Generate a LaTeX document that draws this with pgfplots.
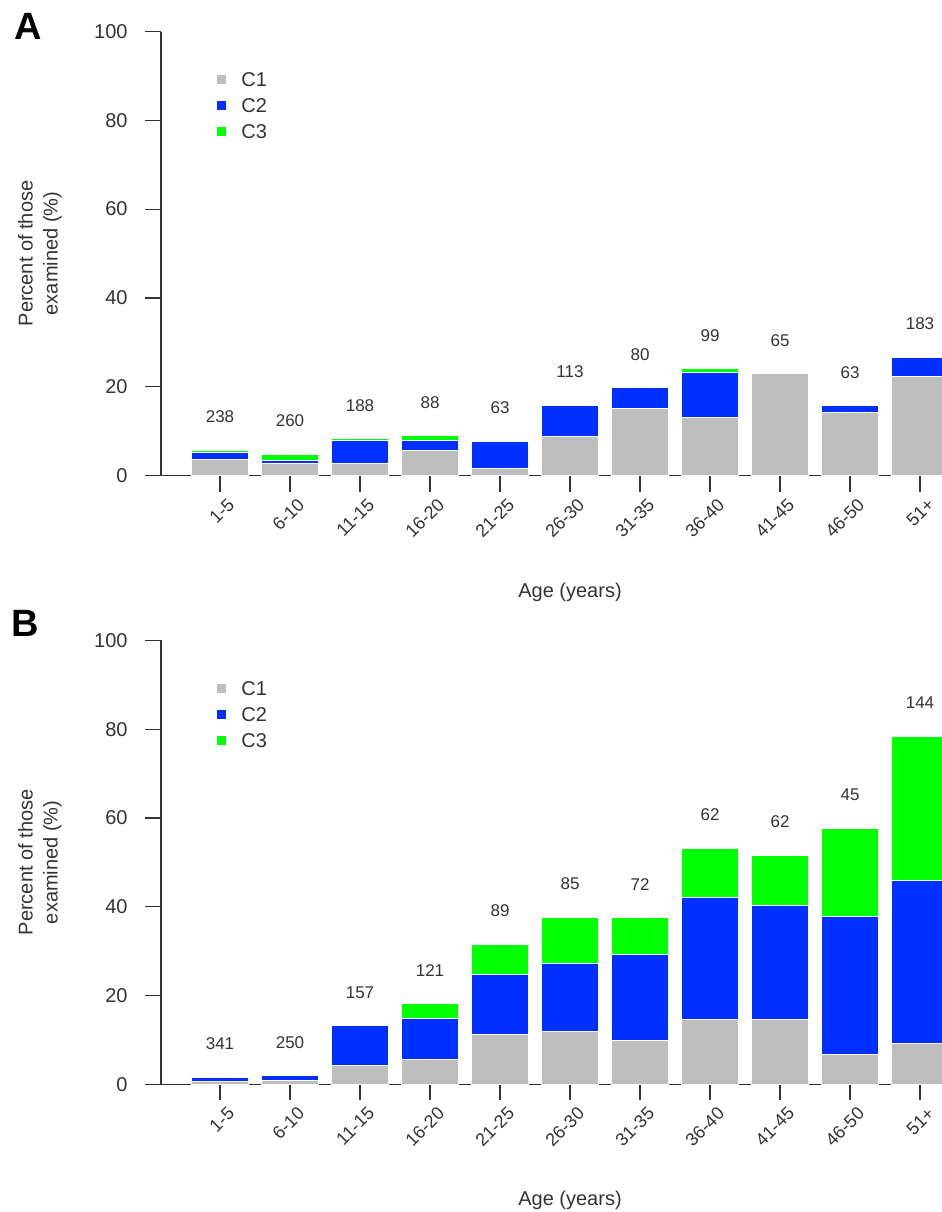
\documentclass[border=0pt]{standalone}
\usepackage{fontspec}
\setmainfont{Liberation Sans}
\usepackage{pgfplots}
\usepackage{pgfplotstable}
\pgfplotsset{compat=1.18}

\definecolor{cgray}{RGB}{190,190,190}
\definecolor{cblue}{RGB}{0,48,255}
\definecolor{cgreen}{RGB}{0,255,0}
\definecolor{axc}{RGB}{51,51,51}

% percent of those examined, by age group; n = number examined
\pgfplotstableread{
x  C1   C2   C3   n
0  3.7  1.5  0.5  238
1  2.6  0.7  1.5  260
2  2.6  5.2  0.5  188
3  5.6  2.2  1.2  88
4  1.5  6.2  0    63
5  8.8  7.0  0    113
6  15.0 4.8  0    80
7  13.1 10.0 0.9  99
8  22.9 0    0    65
9  14.2 1.5  0    63
10 22.4 4.2  0    183
}\dataA

\pgfplotstableread{
x  C1   C2   C3   n
0  0.6  1.0  0    341
1  0.8  1.1  0    250
2  4.3  8.9  0    157
3  5.7  9.2  3.2  121
4  11.3 13.5 6.8  89
5  11.8 15.3 10.5 85
6  9.8  19.4 8.3  72
7  14.6 27.4 11.2 62
8  14.6 25.7 11.3 62
9  6.7  31.1 19.9 45
10 9.1  36.8 32.5 144
}\dataB

\pgfplotsset{
  frame/.style={
    scale only axis, width=390.5pt, height=222pt,
    xmin=-0.843, xmax=10.314, ymin=0, ymax=100,
  },
  agepanel/.style={
    frame,
    ybar stacked, bar width=28.5pt,
    axis x line*=bottom, axis y line*=left,
    axis line style={axc, line width=0.6pt},
    tick style={axc, line width=0.6pt},
    tick align=outside, major tick length=8pt,
    xtick={0,...,10},
    xticklabels={1-5,6-10,11-15,16-20,21-25,26-30,31-35,36-40,41-45,46-50,51+},
    ytick={0,20,...,100},
    /pgf/number format/assume math mode=true,
    yticklabel style={font=\fontsize{10}{12}\selectfont, text=axc, inner sep=0pt, xshift=-8.5pt},
    % shifts act in the rotated frame
    xticklabel style={font=\fontsize{9}{10}\selectfont, text=axc, rotate=45, anchor=east, inner sep=0pt, xshift=0.5pt, yshift=-7.5pt},
    xlabel={Age (years)},
    xlabel style={at={(axis description cs:0.5237,-0.262)}, anchor=center, font=\fontsize{10}{12}\selectfont, text=axc},
    ylabel={Percent of those\\examined (\%)},
    ylabel style={at={(axis description cs:-0.155,0.5)}, anchor=center, align=center, font=\fontsize{10}{12.5}\selectfont, text=axc},
    legend style={at={(axis description cs:0.0704,0.909)}, anchor=north west, draw=none, fill=none,
      inner sep=0pt, font=\fontsize{10}{12}\selectfont, text=axc, row sep=6pt, column sep=7pt,
      nodes={inner sep=0pt, text height=7pt, text depth=0pt}},
    legend cell align=left,
    legend image code/.code={\fill[#1] (0pt,-2.5pt) rectangle (5pt,2.5pt);},
  },
  countlabels/.style={draw=none, nodes near coords, point meta=explicit symbolic,
    nodes near coords style={anchor=center, yshift=16.65pt, font=\fontsize{8.5}{10}\selectfont, text=axc}},
}

\begin{document}
\begin{tikzpicture}
% panel A
\begin{axis}[agepanel, at={(80.5pt,-237.75pt)}, anchor=south west,
  extra description/.code={\node[font=\fontsize{19}{19}\selectfont\bfseries, anchor=center] at (-0.170,1.0124) {A};}]
  \addplot[fill=cgray, draw=white, line width=0.5pt] table[x=x, y=C1] {\dataA};
  \addplot[fill=cblue, draw=white, line width=0.5pt] table[x=x, y=C2] {\dataA};
  \addplot[fill=cgreen, draw=white, line width=0.5pt] table[x=x, y=C3] {\dataA};
  \legend{C1,C2,C3}
\end{axis}
\begin{axis}[frame, hide axis, clip=false, at={(80.5pt,-237.75pt)}, anchor=south west]
  \addplot[countlabels] table[x=x, y expr=\thisrow{C1}+\thisrow{C2}+\thisrow{C3}, meta=n] {\dataA};
\end{axis}
% panel B
\begin{axis}[agepanel, at={(80.5pt,-542.15pt)}, anchor=south west,
  extra description/.code={\node[font=\fontsize{19}{19}\selectfont\bfseries, anchor=center] at (-0.174,1.039) {B};}]
  \addplot[fill=cgray, draw=white, line width=0.5pt] table[x=x, y=C1] {\dataB};
  \addplot[fill=cblue, draw=white, line width=0.5pt] table[x=x, y=C2] {\dataB};
  \addplot[fill=cgreen, draw=white, line width=0.5pt] table[x=x, y=C3] {\dataB};
  \legend{C1,C2,C3}
\end{axis}
\begin{axis}[frame, hide axis, clip=false, at={(80.5pt,-542.15pt)}, anchor=south west]
  \addplot[countlabels] table[x=x, y expr=\thisrow{C1}+\thisrow{C2}+\thisrow{C3}, meta=n] {\dataB};
\end{axis}
\pgfresetboundingbox
\path (0pt,0pt) rectangle (471pt,-606pt);
\end{tikzpicture}
\end{document}
